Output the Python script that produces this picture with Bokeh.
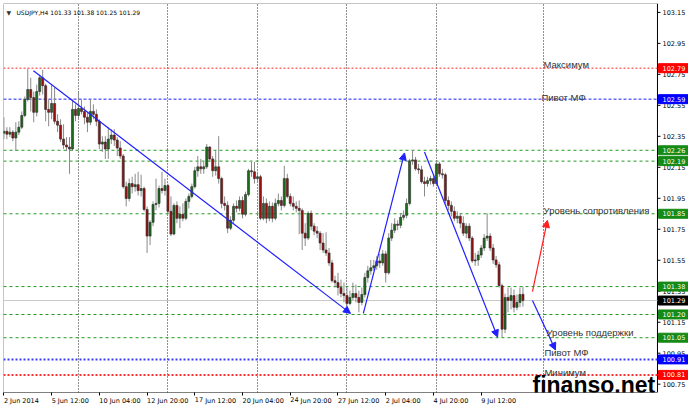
from bokeh.plotting import figure
from bokeh.models import (FixedTicker, Label, Arrow, NormalHead, Range1d, ColumnDataSource)
from bokeh.core.properties import value
from bokeh.embed import file_html
from bokeh.resources import INLINE

# ---------------- data (USDJPY, H4) ----------------
opens = [102.370, 102.383, 102.364, 102.377, 102.339, 102.377, 102.409, 102.485, 102.588, 102.652,
         102.600, 102.505, 102.639, 102.728, 102.677, 102.524, 102.505, 102.562, 102.447, 102.422,
         102.332, 102.294, 102.281, 102.268, 102.524, 102.485, 102.530, 102.511, 102.473, 102.441,
         102.511, 102.492, 102.447, 102.300, 102.313, 102.268, 102.332, 102.358, 102.326, 102.275,
         102.223, 102.025, 101.949, 102.045, 102.025, 102.038, 102.000, 102.013, 101.878, 101.706,
         101.795, 101.910, 101.917, 102.013, 102.000, 102.032, 101.866, 101.719, 101.904, 101.821,
         101.847, 101.821, 101.930, 101.962, 102.025, 102.128, 102.153, 102.140, 102.153, 102.281,
         102.204, 102.128, 102.153, 102.077, 101.917, 101.904, 101.757, 101.808, 101.898, 101.885,
         101.936, 101.847, 101.974, 102.128, 102.121, 102.077, 102.089, 101.821, 101.917, 101.821,
         101.898, 101.821, 101.917, 101.936, 101.904, 102.077, 101.962, 101.917, 101.898, 101.885,
         101.872, 101.725, 101.693, 101.853, 101.770, 101.738, 101.725, 101.661, 101.616, 101.597,
         101.533, 101.418, 101.406, 101.374, 101.335, 101.322, 101.271, 101.310, 101.335, 101.310,
         101.278, 101.329, 101.438, 101.482, 101.501, 101.514, 101.546, 101.533, 101.591, 101.469,
         101.693, 101.744, 101.783, 101.776, 101.827, 101.840, 101.917, 102.192, 102.198, 102.140,
         102.134, 102.057, 102.045, 102.064, 102.077, 102.045, 102.172, 102.108, 102.102, 101.936,
         101.904, 101.866, 101.821, 101.834, 101.789, 101.725, 101.770, 101.693, 101.546, 101.552,
         101.584, 101.629, 101.693, 101.706, 101.629, 101.552, 101.521, 101.386, 101.105, 101.310,
         101.291, 101.322, 101.246, 101.278, 101.330]
highs = [102.473, 102.409, 102.409, 102.390, 102.441, 102.447, 102.511, 102.607, 102.786, 102.728,
         102.639, 102.684, 102.747, 102.779, 102.690, 102.588, 102.684, 102.664, 102.492, 102.460,
         102.428, 102.345, 102.345, 102.588, 102.556, 102.639, 102.588, 102.543, 102.505, 102.588,
         102.556, 102.524, 102.460, 102.351, 102.351, 102.409, 102.396, 102.396, 102.345, 102.319,
         102.236, 102.057, 102.077, 102.089, 102.108, 102.121, 102.102, 102.025, 101.898, 101.808,
         101.930, 102.077, 102.032, 102.121, 102.077, 102.045, 101.962, 101.917, 101.930, 101.898,
         101.917, 101.949, 101.981, 102.045, 102.153, 102.223, 102.204, 102.185, 102.300, 102.287,
         102.223, 102.255, 102.351, 102.089, 101.962, 101.930, 101.834, 101.917, 101.936, 101.962,
         101.962, 101.993, 102.140, 102.185, 102.185, 102.121, 102.102, 101.962, 101.949, 101.930,
         101.923, 101.949, 101.981, 101.962, 102.160, 102.108, 101.981, 101.962, 101.930, 101.936,
         101.885, 101.789, 101.866, 101.872, 101.789, 101.770, 101.738, 101.725, 101.731, 101.629,
         101.552, 101.450, 101.469, 101.425, 101.406, 101.374, 101.354, 101.406, 101.393, 101.354,
         101.374, 101.469, 101.514, 101.552, 101.552, 101.578, 101.591, 101.616, 101.610, 101.725,
         101.789, 101.821, 101.808, 101.853, 101.872, 101.949, 102.204, 102.262, 102.217, 102.172,
         102.160, 102.089, 102.089, 102.096, 102.102, 102.192, 102.185, 102.140, 102.115, 101.962,
         101.930, 101.898, 101.866, 101.853, 101.834, 101.789, 101.789, 101.706, 101.597, 101.610,
         101.648, 101.719, 101.853, 101.725, 101.655, 101.578, 101.540, 101.399, 101.335, 101.374,
         101.374, 101.361, 101.329, 101.374, 101.380]
lows = [102.332, 102.332, 102.345, 102.319, 102.255, 102.358, 102.396, 102.473, 102.575, 102.511,
        102.441, 102.479, 102.613, 102.620, 102.447, 102.415, 102.460, 102.428, 102.377, 102.313,
        102.268, 102.255, 102.108, 102.255, 102.447, 102.460, 102.492, 102.428, 102.377, 102.422,
        102.460, 102.415, 102.268, 102.249, 102.204, 102.204, 102.300, 102.287, 102.223, 102.204,
        102.013, 101.898, 101.930, 101.981, 101.993, 101.968, 101.962, 101.866, 101.597, 101.648,
        101.770, 101.872, 101.891, 101.981, 101.968, 101.847, 101.706, 101.712, 101.789, 101.757,
        101.802, 101.808, 101.885, 101.949, 102.013, 102.089, 102.108, 102.108, 102.140, 102.185,
        102.089, 102.096, 102.045, 101.885, 101.872, 101.725, 101.744, 101.789, 101.859, 101.866,
        101.821, 101.834, 101.962, 102.089, 102.045, 102.051, 101.808, 101.808, 101.789, 101.802,
        101.795, 101.808, 101.898, 101.872, 101.891, 101.949, 101.898, 101.872, 101.859, 101.719,
        101.616, 101.642, 101.680, 101.744, 101.712, 101.693, 101.616, 101.597, 101.578, 101.514,
        101.406, 101.374, 101.322, 101.310, 101.278, 101.233, 101.259, 101.291, 101.278, 101.214,
        101.259, 101.310, 101.406, 101.457, 101.482, 101.489, 101.501, 101.514, 101.406, 101.457,
        101.674, 101.725, 101.744, 101.757, 101.808, 101.821, 101.904, 102.166, 102.128, 102.108,
        102.045, 101.962, 102.025, 102.038, 102.025, 102.032, 102.089, 102.077, 101.917, 101.872,
        101.834, 101.802, 101.789, 101.757, 101.706, 101.693, 101.674, 101.533, 101.514, 101.514,
        101.565, 101.610, 101.674, 101.610, 101.527, 101.501, 101.374, 101.054, 101.080, 101.214,
        101.233, 101.214, 101.227, 101.246, 101.250]
closes = [102.383, 102.364, 102.377, 102.339, 102.377, 102.409, 102.485, 102.588, 102.652, 102.600,
          102.505, 102.639, 102.728, 102.677, 102.524, 102.505, 102.562, 102.447, 102.422, 102.332,
          102.294, 102.281, 102.268, 102.524, 102.485, 102.530, 102.511, 102.473, 102.441, 102.511,
          102.492, 102.447, 102.300, 102.313, 102.268, 102.332, 102.358, 102.326, 102.275, 102.223,
          102.025, 101.949, 102.045, 102.025, 102.038, 102.000, 102.013, 101.878, 101.706, 101.795,
          101.910, 101.917, 102.013, 102.000, 102.032, 101.866, 101.719, 101.904, 101.821, 101.847,
          101.821, 101.930, 101.962, 102.025, 102.128, 102.153, 102.140, 102.153, 102.281, 102.204,
          102.128, 102.153, 102.077, 101.917, 101.904, 101.757, 101.808, 101.898, 101.885, 101.936,
          101.847, 101.974, 102.128, 102.121, 102.077, 102.089, 101.821, 101.917, 101.821, 101.898,
          101.821, 101.917, 101.936, 101.904, 102.077, 101.962, 101.917, 101.898, 101.885, 101.872,
          101.725, 101.693, 101.853, 101.770, 101.738, 101.725, 101.661, 101.616, 101.597, 101.533,
          101.418, 101.406, 101.374, 101.335, 101.322, 101.271, 101.310, 101.335, 101.310, 101.278,
          101.329, 101.438, 101.482, 101.501, 101.514, 101.546, 101.533, 101.591, 101.469, 101.693,
          101.744, 101.783, 101.776, 101.827, 101.840, 101.917, 102.192, 102.198, 102.140, 102.134,
          102.057, 102.045, 102.064, 102.077, 102.045, 102.172, 102.108, 102.102, 101.936, 101.904,
          101.866, 101.821, 101.834, 101.789, 101.725, 101.770, 101.693, 101.546, 101.552, 101.584,
          101.629, 101.693, 101.706, 101.629, 101.552, 101.521, 101.386, 101.105, 101.310, 101.291,
          101.322, 101.246, 101.278, 101.329, 101.290]

x_tick_bars = [0, 16, 32, 48, 64, 80, 96, 112, 128, 144, 160]
x_tick_labels = ["2 Jun 2014", "5 Jun 12:00", "10 Jun 04:00", "12 Jun 20:00", "17 Jun 12:00",
                 "20 Jun 04:00", "24 Jun 20:00", "27 Jun 12:00", "2 Jul 04:00", "4 Jul 20:00",
                 "9 Jul 12:00"]
week_grid_bars = [25, 55, 85, 115, 145, 181]
y_ticks = [100.75, 100.95, 101.15, 101.35, 101.55, 101.75, 101.95, 102.15, 102.35, 102.55,
           102.75, 102.95, 103.15]

levels = [102.79, 102.59, 102.26, 102.19, 101.85, 101.38, 101.29, 101.20, 101.05, 100.91, 100.81]
level_kinds = ["max", "pivot", "lvl", "lvl", "lvl", "lvl", "bid", "lvl", "lvl", "pivot2", "min"]

header_mark = "▼"
header = "USDJPY,H4  101.33 101.38 101.25 101.29"

notes = ["Максимум", "Пивот МФ", "Уровень сопротивления", "Уровень поддержки", "Пивот МФ", "Минимум"]
note_x = [180.9, 180.2, 180.9, 181.9, 181.2, 181.2]
note_y = [102.815, 102.603, 101.870, 101.082, 100.954, 100.828]

# arrows: (x0, y0, x1, y1, kind)
arrows = [(9.9, 102.773, 116.2, 101.207, "blue"),
          (120.5, 101.207, 134.3, 102.243, "blue"),
          (141.0, 102.249, 165.5, 101.054, "blue"),
          (177.2, 101.348, 182.2, 101.808, "red"),
          (177.2, 101.291, 184.9, 100.971, "blue")]

# ---------------- layout / styles ----------------
X0, X1 = -0.134, 229.5          # visible bar range (incl. price-scale strip)
Y0, Y1 = 100.6963, 103.2075     # visible price range
AXIS_X = 219.1                  # price-scale line position (bar units)
TICK_LEN = 1.0
LABEL_DX = 1.7
BOX_HALF = 0.029

BULL = "#1c6b1c"
BEAR = "#9a1010"
WICK = "#8a8a8a"
GREEN = "#1f9a1f"
FONT = "DejaVu Sans"
kind_style = {
    "max":    dict(color="#ff2a2a", dash="2 2", width=1, box="#ff0000"),
    "pivot":  dict(color="#1f1fff", dash="3 2", width=1, box="#0000ff"),
    "lvl":    dict(color=GREEN, dash="3 3", width=1, box="#168a16"),
    "bid":    dict(color="#c8c8c8", dash="solid", width=1, box="#000000"),
    "pivot2": dict(color="#3a3aff", dash="2 2", width=2, box="#0000ff"),
    "min":    dict(color="#ff3030", dash="2 2", width=2, box="#ff0000"),
}
arrow_colors = {"blue": "#2020ff", "red": "#ff2020"}

x = list(range(len(closes)))
src = ColumnDataSource(dict(
    x=x, o=opens, h=highs, l=lows, c=closes,
    top=[max(a, b) for a, b in zip(opens, closes)],
    bottom=[min(a, b) for a, b in zip(opens, closes)],
    color=[BULL if c >= o else BEAR for o, c in zip(opens, closes)],
))

p = figure(width=688, height=411, output_backend="svg", toolbar_location=None,
           x_range=Range1d(X0, X1), y_range=Range1d(Y0, Y1),
           y_axis_location=None, min_border_left=3, min_border_top=3,
           min_border_right=0, min_border_bottom=15)
p.background_fill_color = "white"
p.border_fill_color = "white"
p.outline_line_color = None

# grid (weekly vertical dotted lines)
p.ygrid.visible = False
p.xgrid.ticker = FixedTicker(ticks=week_grid_bars)
p.xgrid.grid_line_color = "#222222"
p.xgrid.grid_line_dash = "1 2"
p.xgrid.grid_line_width = 1

# time axis (labels start at their tick, like the terminal does)
p.xaxis.ticker = FixedTicker(ticks=x_tick_bars)
p.xaxis.major_label_overrides = {b: t for b, t in zip(x_tick_bars, x_tick_labels)}
p.xaxis.major_label_orientation = -1e-6
p.xaxis.major_label_text_font = FONT
p.xaxis.major_label_text_font_size = "6.5px"
p.xaxis.major_label_text_color = "black"
p.xaxis.major_label_standoff = 5
p.xaxis.major_tick_out = 3
p.xaxis.major_tick_in = 0
p.xaxis.minor_tick_line_color = None
p.xaxis.axis_line_color = None

# chart frame
p.line(x=[X0, X0, AXIS_X], y=[Y0, Y1, Y1], line_color="#8c8c8c", line_width=1)
p.line(x=[X0, AXIS_X, AXIS_X], y=[Y0, Y0, Y1], line_color="black", line_width=1)

# level lines
for lv, k in zip(levels, level_kinds):
    st = kind_style[k]
    p.line(x=[X0, AXIS_X], y=[lv, lv], line_color=st["color"],
           line_dash=st["dash"], line_width=st["width"])

# candles
p.segment(x0="x", y0="h", x1="x", y1="l", source=src, line_color=WICK, line_width=1)
p.vbar(x="x", width=0.7, top="top", bottom="bottom", source=src,
       fill_color="color", line_color="#2a2a2a", line_width=0.6)

# price scale ticks and labels
p.segment(x0=[AXIS_X] * len(y_ticks), y0=y_ticks, x1=[AXIS_X + TICK_LEN] * len(y_ticks), y1=y_ticks,
          line_color="black", line_width=1)
p.text(x=[AXIS_X + LABEL_DX] * len(y_ticks), y=y_ticks, text=[f"{t:.2f}" for t in y_ticks],
       text_font=value(FONT), text_font_size="6.5px", text_color="black",
       text_baseline="middle", text_align="left")

# price boxes on the scale
box_cols = [kind_style[k]["box"] for k in level_kinds]
p.quad(left=[AXIS_X + 0.35] * len(levels), right=[X1 + 1] * len(levels),
       top=[lv + BOX_HALF for lv in levels], bottom=[lv - BOX_HALF for lv in levels],
       fill_color=box_cols, line_color=box_cols)
p.text(x=[AXIS_X + LABEL_DX] * len(levels), y=levels, text=[f"{lv:.2f}" for lv in levels],
       text_font=value(FONT), text_font_size="6.5px", text_color="white",
       text_baseline="middle", text_align="left")

# arrows
for ax0, ay0, ax1, ay1, k in arrows:
    col = arrow_colors[k]
    p.add_layout(Arrow(end=NormalHead(size=7, fill_color=col, line_color=col),
                       x_start=ax0, y_start=ay0, x_end=ax1, y_end=ay1,
                       line_color=col, line_width=1.2))

# notes
for t, nx, ny in zip(notes, note_x, note_y):
    p.add_layout(Label(x=nx, y=ny, text=t, text_font="Liberation Sans", text_font_size="9.5px",
                       text_color="#333333", text_baseline="alphabetic", text_align="left"))

# header
p.add_layout(Label(x=0.9, y=103.152, text=header_mark, text_font=FONT, text_font_size="6px",
                   text_color="#333333", text_baseline="alphabetic", text_align="left"))
p.add_layout(Label(x=4.2, y=103.152, text=header, text_font=FONT, text_font_size="6px",
                   text_color="black", text_baseline="alphabetic", text_align="left"))

# watermark
p.add_layout(Label(x=177.2, y=100.745, text="finanso.net", text_font="Liberation Sans",
                   text_font_size="23px", text_font_style="bold", text_color="black",
                   text_baseline="alphabetic", text_align="left"))

open("out.html", "w").write(file_html(p, INLINE))
